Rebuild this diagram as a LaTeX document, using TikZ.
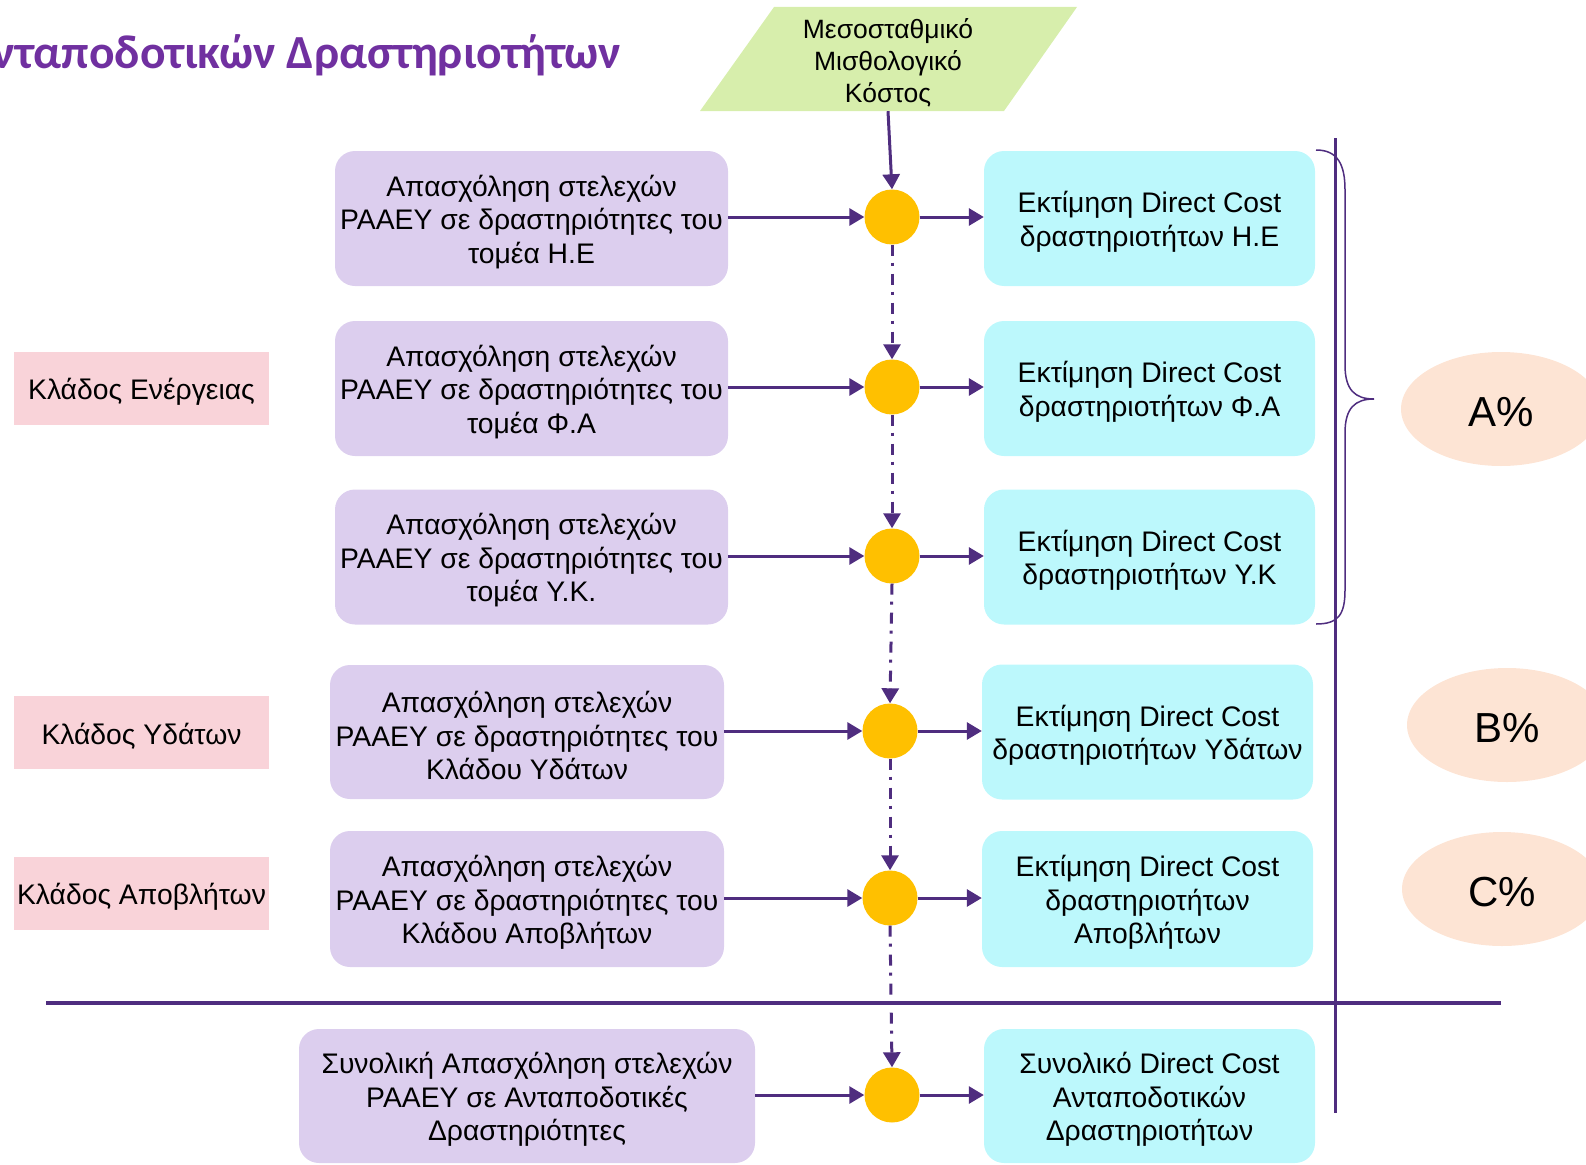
\documentclass[tikz,border=0pt]{standalone}
\usepackage{fontspec}
\setmainfont{Liberation Sans}
\newfontfamily\titlefont{Carlito}
\usetikzlibrary{arrows.meta,shapes.geometric}
\definecolor{arr}{HTML}{4F2D7F}
\definecolor{boxpurple}{HTML}{DCCEEE}
\definecolor{boxcyan}{HTML}{BCF8FC}
\definecolor{gold}{HTML}{FFC000}
\definecolor{pinklab}{HTML}{F9D3D9}
\definecolor{peach}{HTML}{FDE4D4}
\definecolor{paragreen}{HTML}{D7EEAC}
\definecolor{titlecol}{HTML}{7030A0}
\begin{document}
\begin{tikzpicture}[x=1pt,y=-1pt,
  txt/.style={align=center, inner sep=0pt, yshift=-3.5pt, font=\fontsize{28.3}{33.5}\selectfont},
  lbox/.style={fill=boxpurple, rounded corners=20pt, minimum width=393pt, minimum height=135pt, inner sep=0pt},
  rbox/.style={fill=boxcyan, rounded corners=20pt, minimum width=331pt, minimum height=135pt, inner sep=0pt},
  dot/.style={circle, fill=gold, minimum size=55pt, inner sep=0pt},
  lab/.style={fill=pinklab, minimum width=255pt, minimum height=73pt, inner sep=0pt},
  pct/.style={ellipse, fill=peach, minimum width=200pt, minimum height=114pt, inner sep=0pt},
  flow/.style={draw=arr, line width=3pt, -{Triangle[length=15pt,width=17pt]}},
  ddflow/.style={flow, dash pattern=on 11pt off 7pt on 3pt off 8pt}
]
\clip (0,0) rectangle (1586,1164);
\useasboundingbox (0,0) rectangle (1586,1164);

% title
\node[anchor=base east, inner sep=0pt, text=titlecol, font=\titlefont\bfseries\fontsize{47.5}{56}\selectfont] (title) at (621,68) {νταποδοτικών Δραστηριοτήτων};

% parallelogram
\fill[paragreen] (700,111) -- (774,7) -- (1077,7) -- (1004,111) -- cycle;
\node[minimum height=104pt, inner sep=0pt,
  label={[txt, font=\fontsize{26.5}{32}\selectfont]center:{Μεσοσταθμικό\\Μισθολογικό\\Κόστος}}] (mmk) at (888,59) {};

% labels
\node[lab, label={[txt]center:{Κλάδος Ενέργειας}}] (k1) at (141.5,388.5) {};
\node[lab, label={[txt]center:{Κλάδος Υδάτων}}] (k2) at (141.5,732.5) {};
\node[lab, label={[txt]center:{Κλάδος Αποβλήτων}}] (k3) at (141.5,893.5) {};

% left boxes
\node[lbox, label={[txt]center:{Απασχόληση στελεχών\\ΡΑΑΕΥ σε δραστηριότητες του\\τομέα Η.Ε}}] (l1) at (531.5,218.5) {};
\node[lbox, label={[txt]center:{Απασχόληση στελεχών\\ΡΑΑΕΥ σε δραστηριότητες του\\τομέα Φ.Α}}] (l2) at (531.5,388.5) {};
\node[lbox, label={[txt]center:{Απασχόληση στελεχών\\ΡΑΑΕΥ σε δραστηριότητες του\\τομέα Υ.Κ.}}] (l3) at (531.5,557) {};
\node[lbox, minimum width=394pt, minimum height=134pt, label={[txt]center:{Απασχόληση στελεχών\\ΡΑΑΕΥ σε δραστηριότητες του\\Κλάδου Υδάτων}}] (l4) at (527,732) {};
\node[lbox, minimum width=394pt, minimum height=136pt, label={[txt]center:{Απασχόληση στελεχών\\ΡΑΑΕΥ σε δραστηριότητες του\\Κλάδου Αποβλήτων}}] (l5) at (527,899) {};
\node[lbox, minimum width=456pt, minimum height=134pt, label={[txt]center:{Συνολική Απασχόληση στελεχών\\ΡΑΑΕΥ σε Ανταποδοτικές\\Δραστηριότητες}}] (l6) at (527,1096) {};

% circles
\node[dot] (c1) at (892,217) {};
\node[dot] (c2) at (892,387) {};
\node[dot] (c3) at (892,556) {};
\node[dot] (c4) at (890,731) {};
\node[dot] (c5) at (890,898) {};
\node[dot] (c6) at (892,1095) {};

% right boxes
\node[rbox, label={[txt]center:{Εκτίμηση Direct Cost\\δραστηριοτήτων Η.Ε}}] (r1) at (1149.5,218.5) {};
\node[rbox, label={[txt]center:{Εκτίμηση Direct Cost\\δραστηριοτήτων Φ.Α}}] (r2) at (1149.5,388.5) {};
\node[rbox, label={[txt]center:{Εκτίμηση Direct Cost\\δραστηριοτήτων Υ.Κ}}] (r3) at (1149.5,557) {};
\node[rbox, label={[txt]center:{Εκτίμηση Direct Cost\\δραστηριοτήτων Υδάτων}}] (r4) at (1147.5,732) {};
\node[rbox, minimum height=136pt, label={[txt]center:{Εκτίμηση Direct Cost\\δραστηριοτήτων\\Αποβλήτων}}] (r5) at (1147.5,899) {};
\node[rbox, minimum height=134pt, label={[txt]center:{Συνολικό Direct Cost\\Ανταποδοτικών\\Δραστηριοτήτων}}] (r6) at (1149.5,1096) {};

% percentage ellipses
\node[pct, label={[txt, font=\fontsize{42}{50}\selectfont]center:{A\%}}] (pa) at (1501,409) {};
\node[pct, label={[txt, font=\fontsize{42}{50}\selectfont]center:{B\%}}] (pb) at (1507,725) {};
\node[pct, label={[txt, font=\fontsize{42}{50}\selectfont]center:{C\%}}] (pc) at (1502,889) {};

% separator lines
\coordinate (hl1) at (46,1003);
\coordinate (hl2) at (1501,1003);
\coordinate (vl1) at (1335,138);
\coordinate (vl2) at (1335,1113);
\draw[arr, line width=4pt] (hl1) -- (hl2);
\draw[arr, line width=3pt] (vl1) -- (vl2);

% brace
\coordinate (bt) at (1316,150);
\coordinate (bb) at (1316,624);
\draw[arr, line width=1.5pt] (bt) .. controls (1338,150) and (1345,165) .. (1345,190)
  -- (1345,365) .. controls (1345,390) and (1355,399) .. (1374,399)
  .. controls (1355,399) and (1345,408) .. (1345,433)
  -- (1345,590) .. controls (1345,615) and (1338,624) .. (bb);

% arrows
\draw[flow] (mmk.south) -- (c1.north);
\foreach \i in {1,...,6}{
  \draw[flow] (l\i.east |- c\i.west) -- (c\i.west);
  \draw[flow] (c\i.east) -- (r\i.west |- c\i.east);
}
\draw[ddflow] (c1.south) -- (c2.north);
\draw[ddflow] (c2.south) -- (c3.north);
\draw[ddflow] (c3.south) -- (c4.north);
\draw[ddflow] (c4.south) -- (c5.north);
\draw[ddflow] (c5.south) -- (c6.north);
\end{tikzpicture}
\end{document}
